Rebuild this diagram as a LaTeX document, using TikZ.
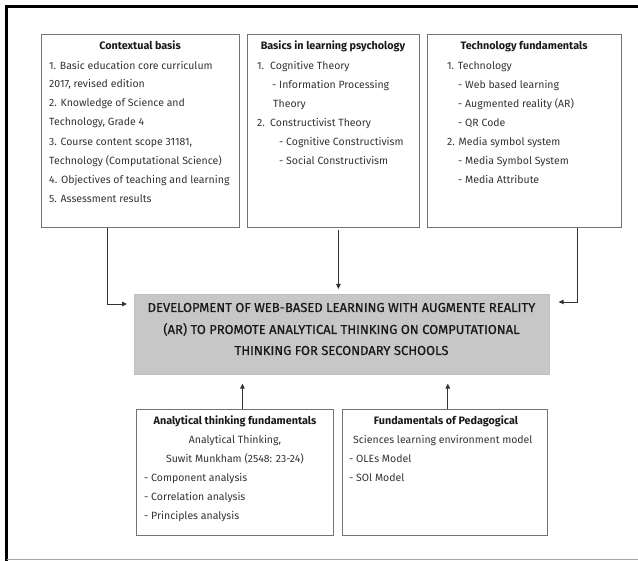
\documentclass[tikz,border=0pt]{standalone}
\usepackage{fontspec}
\setmainfont{Fira Sans}
\newfontfamily\corefont[FakeBold=0.6]{Fira Sans}
\usetikzlibrary{arrows.meta}
\begin{document}
\begin{tikzpicture}[x=1pt,y=-1pt,
  panel/.style={draw=black!55, line width=0.8pt, inner sep=0pt, anchor=north west},
  core/.style={draw=black!25, fill=black!22, line width=0.6pt, inner sep=0pt, anchor=north west},
  ln/.style={anchor=west, inner sep=0pt, text height=7pt, text depth=2pt,
    font=\fontsize{10.5}{12}\selectfont, text=black!80},
  ttl/.style={anchor=center, inner sep=0pt, text height=7pt, text depth=2pt,
    font=\fontsize{10.8}{12}\selectfont\bfseries, text=black!90},
  big/.style={anchor=center, inner sep=0pt, text height=8pt, text depth=2pt,
    font=\corefont\fontsize{13}{15}\selectfont, text=black!90},
  link/.style={draw=black!80, line width=0.9pt, -{Triangle[length=5pt,width=4.5pt]}}
]
\useasboundingbox (0,0) rectangle (638,561);

% outer frame: heavy top and left rules, light bottom rule
\draw[line width=2.4pt] (6.5,561) -- (6.5,6.5) -- (638,6.5);
\draw[black!35, line width=0.8pt] (6.5,559.5) -- (638,559.5);

% panels
\node[panel, minimum width=198pt, minimum height=193pt] (ctx) at (41,34) {};
\node[panel, minimum width=172pt, minimum height=193pt] (psy) at (247,34) {};
\node[panel, minimum width=194pt, minimum height=193pt] (tech) at (427,34) {};
\node[core, minimum width=415pt, minimum height=80pt] (dev) at (134,294) {};
\node[panel, minimum width=197pt, minimum height=126pt] (ana) at (136,409) {};
\node[panel, minimum width=205pt, minimum height=126pt] (ped) at (342,409) {};

% Contextual basis
\node[ttl] (ctxT) at (140,47) {Contextual basis};
\node[ln] (ctx1) at (49,67) {1. Basic education core curriculum};
\node[ln] (ctx2) at (49,85) {2017, revised edition};
\node[ln] (ctx3) at (49,104) {2. Knowledge of Science and};
\node[ln] (ctx4) at (49,123) {Technology, Grade 4};
\node[ln] (ctx5) at (49,143) {3. Course content scope 31181,};
\node[ln] (ctx6) at (49,162) {Technology (Computational Science)};
\node[ln] (ctx7) at (49,181) {4. Objectives of teaching and learning};
\node[ln] (ctx8) at (49,200) {5. Assessment results};

% Basics in learning psychology
\node[ttl] (psyT) at (333,47) {Basics in learning psychology};
\node[ln] (psyN1) at (257,67) {1.};
\node[ln] (psy1) at (270,67) {Cognitive Theory};
\node[ln] (psy2) at (272,86) {- Information Processing};
\node[ln] (psy3) at (273,105) {Theory};
\node[ln] (psyN2) at (257,124) {2.};
\node[ln] (psy4) at (270,124) {Constructivist Theory};
\node[ln] (psy5) at (279,143) {- Cognitive Constructivism};
\node[ln] (psy6) at (279,162) {- Social Constructivism};

% Technology fundamentals
\node[ttl] (techT) at (524,47) {Technology fundamentals};
\node[ln] (tech1) at (447,67) {1. Technology};
\node[ln] (tech2) at (458,86) {- Web based learning};
\node[ln] (tech3) at (458,105) {- Augmented reality (AR)};
\node[ln] (tech4) at (458,124) {- QR Code};
\node[ln] (tech5) at (447,143) {2. Media symbol system};
\node[ln] (tech6) at (458,162) {- Media Symbol System};
\node[ln] (tech7) at (458,181) {- Media Attribute};

% central statement
\node[big] (dev1) at (341.5,309) {DEVELOPMENT OF WEB-BASED LEARNING WITH AUGMENTE REALITY};
\node[big] (dev2) at (341.5,331) {(AR) TO PROMOTE ANALYTICAL THINKING ON COMPUTATIONAL};
\node[big] (dev3) at (341.5,352) {THINKING FOR SECONDARY SCHOOLS};

% Analytical thinking fundamentals
\node[ttl] (anaT) at (235,422) {Analytical thinking fundamentals};
\node[ln, anchor=center] (ana1) at (235,441) {Analytical Thinking,};
\node[ln, anchor=center] (ana2) at (235,460) {Suwit Munkham (2548: 23-24)};
\node[ln] (ana3) at (144,479) {- Component analysis};
\node[ln] (ana4) at (144,498) {- Correlation analysis};
\node[ln] (ana5) at (144,517) {- Principles analysis};

% Fundamentals of Pedagogical
\node[ttl] (pedT) at (446,422) {Fundamentals of Pedagogical};
\node[ln] (ped1) at (353,441) {Sciences learning environment model};
\node[ln] (ped2) at (349,460) {- OLEs Model};
\node[ln] (ped3) at (349,479) {- SOl Model};

% connectors
\coordinate (ctxOut) at ([xshift=66pt]ctx.south west);
\draw[link, shorten >=7pt] (ctxOut) |- ([yshift=-10pt]dev.north west);
\coordinate (psyOut) at ([xshift=5pt]psy.south);
\draw[link, shorten <=2pt, shorten >=5pt] (psyOut) -- (psyOut |- dev.north);
\coordinate (techOut) at ([xshift=-44pt]tech.south east);
\draw[link, shorten >=9pt] (techOut) |- ([yshift=-8pt]dev.north east);
\coordinate (anaOut) at ([xshift=7.5pt]ana.north);
\draw[link, shorten >=9pt] (anaOut) -- (anaOut |- dev.south);
\coordinate (pedOut) at ([xshift=-100pt]ped.north east);
\draw[link, shorten >=9pt] (pedOut) -- (pedOut |- dev.south);
\end{tikzpicture}
\end{document}
